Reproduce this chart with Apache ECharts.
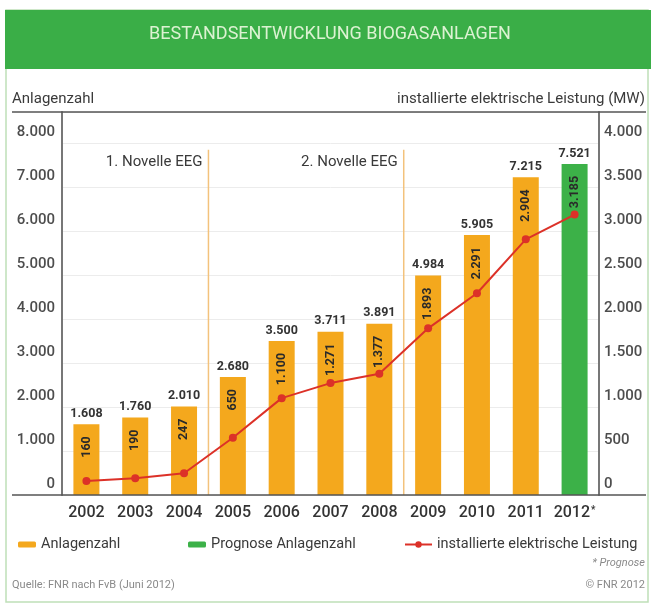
<!DOCTYPE html>
<html>
<head>
<meta charset="utf-8">
<script src="https://cdn.jsdelivr.net/npm/echarts@6/dist/echarts.min.js"></script>
<style>
html,body{margin:0;padding:0;background:#fff;}
#chart{width:651px;height:605px;}
</style>
</head>
<body>
<div id="chart"></div>
<script>
// ---- data ----
const years = ['2002','2003','2004','2005','2006','2007','2008','2009','2010','2011','2012'];
const anlagenzahl = [1608, 1760, 2010, 2680, 3500, 3711, 3891, 4984, 5905, 7215, null];
const prognoseAnlagenzahl = [null, null, null, null, null, null, null, null, null, null, 7521];
const leistungMW = [160, 190, 247, 650, 1100, 1271, 1377, 1893, 2291, 2904, 3185];
const novellen = [
  { between: ['2004', '2005'], label: '1. Novelle EEG' },
  { between: ['2008', '2009'], label: '2. Novelle EEG' }
];
const titleText = 'BESTANDSENTWICKLUNG BIOGASANLAGEN';
const leftAxisName = 'Anlagenzahl';
const rightAxisName = 'installierte elektrische Leistung (MW)';
const forecastYear = '2012';

// ---- helpers ----
const fmt = v => (v == null ? '' : String(Math.round(v)).replace(/\B(?=(\d{3})+(?!\d))/g, '.'));
const totals = anlagenzahl.map((v, i) => (v != null ? v : prognoseAnlagenzahl[i]));
const FONT = 'Roboto, "Liberation Sans", sans-serif';
const ORANGE = '#f4a81d';
const GREEN = '#3cb148';
const RED = '#dc3128';
const TXT = '#3a3a3a';

const chart = echarts.init(document.getElementById('chart'), null, { renderer: 'canvas' });

const legendText = { fontSize: 14.5, color: TXT, fontFamily: FONT };
const option = {
  backgroundColor: '#fff',
  animation: false,
  textStyle: { fontFamily: FONT },
  grid: { left: 62, right: 52, top: 112, bottom: 110, containLabel: false },
  legend: [
    { data: ['Anlagenzahl'], left: 13, top: 532, icon: 'roundRect', itemWidth: 18, itemHeight: 6, textStyle: legendText },
    { data: ['Prognose Anlagenzahl'], left: 183, top: 532, icon: 'roundRect', itemWidth: 18, itemHeight: 6, textStyle: legendText },
    { data: ['installierte elektrische Leistung'], left: 399, top: 532, itemWidth: 27, itemHeight: 8, textStyle: legendText }
  ],
  xAxis: {
    type: 'category',
    data: years,
    axisLine: { show: false },
    axisTick: { show: false },
    axisLabel: {
      interval: 0, fontSize: 16, fontWeight: 500, color: '#333', margin: 10, fontFamily: FONT,
      formatter: v => (v === forecastYear ? v + '{s|*}' : v),
      rich: { s: { fontSize: 10, color: '#333', verticalAlign: 'top', padding: [0, 0, 6, 1] } }
    }
  },
  yAxis: [
    {
      type: 'value', min: 0, max: 8700, interval: 1000,
      axisLine: { show: true, lineStyle: { color: '#777', width: 2 } },
      axisTick: { show: false },
      splitLine: { show: true, lineStyle: { color: '#ececec', width: 1 } },
      axisLabel: {
        showMaxLabel: false, fontSize: 15, fontWeight: 500, color: '#4d4d4d', margin: 7, fontFamily: FONT,
        verticalAlign: 'bottom', padding: [0, 0, 3, 0], formatter: v => fmt(v)
      }
    },
    {
      type: 'value', min: 0, max: 4350, interval: 500, position: 'right',
      axisLine: { show: true, lineStyle: { color: '#777', width: 2 } },
      axisTick: { show: false },
      splitLine: { show: false },
      axisLabel: {
        showMaxLabel: false, fontSize: 15, fontWeight: 500, color: '#4d4d4d', margin: 5, fontFamily: FONT,
        verticalAlign: 'bottom', padding: [0, 0, 3, 0], formatter: v => fmt(v)
      }
    }
  ],
  series: [
    {
      name: 'Anlagenzahl', type: 'bar', data: anlagenzahl, barWidth: 26, barGap: '-100%',
      itemStyle: { color: ORANGE },
      label: { show: true, position: 'top', distance: 4, fontSize: 12.5, fontWeight: 'bold', color: '#333', fontFamily: FONT,
        formatter: p => fmt(p.value) }
    },
    {
      name: 'Prognose Anlagenzahl', type: 'bar', data: prognoseAnlagenzahl, barWidth: 26, barGap: '-100%',
      itemStyle: { color: GREEN },
      label: { show: true, position: 'top', distance: 4, fontSize: 12.5, fontWeight: 'bold', color: '#333', fontFamily: FONT,
        formatter: p => fmt(p.value) }
    },
    {
      name: 'leistungLabels', type: 'bar', data: totals, barWidth: 26, barGap: '-100%', silent: true,
      itemStyle: { color: 'rgba(0,0,0,0)' },
      label: { show: true, position: 'insideTop', distance: 12, rotate: 90, align: 'right', verticalAlign: 'middle',
        fontSize: 12.5, fontWeight: 'bold', color: '#2a2a2a', fontFamily: FONT,
        formatter: p => fmt(leistungMW[p.dataIndex]) },
      z: 3
    },
    {
      name: 'installierte elektrische Leistung', type: 'line', yAxisIndex: 1, data: leistungMW,
      symbol: 'circle', symbolSize: 8,
      lineStyle: { color: RED, width: 2 }, itemStyle: { color: RED },
      z: 4
    }
  ]
};
chart.setOption(option);

// decorative graphics (frame, header, rules, annotations)
const txt = (text, x, y, font, fill, align) => ({
  type: 'text', z: 10,
  style: { text, x, y, fill, font, textAlign: align, textVerticalAlign: 'middle', align, verticalAlign: 'middle' }
});
const g = [
  { type: 'rect', z: -100, shape: { x: 6, y: 10, width: 642, height: 592 }, style: { fill: '#fff', stroke: '#bfe0b8', lineWidth: 1.5 } },
  { type: 'rect', z: -99, shape: { x: 5, y: 10, width: 646, height: 59 }, style: { fill: '#3aae47' } },
  txt(titleText, 330, 34, '18px ' + FONT, '#dcf2d2', 'center'),
  txt(leftAxisName, 12, 99, '15px ' + FONT, TXT, 'left'),
  txt(rightAxisName, 645, 99, '15px ' + FONT, TXT, 'right'),
  { type: 'line', z: 10, shape: { x1: 12, y1: 112, x2: 646, y2: 112 }, style: { stroke: '#555', lineWidth: 1.5 } },
  { type: 'line', z: 10, shape: { x1: 12, y1: 495, x2: 646, y2: 495 }, style: { stroke: '#555', lineWidth: 1.5 } },
  txt('* Prognose', 645, 563, 'italic 11px ' + FONT, '#8a8a8a', 'right'),
  txt('© FNR 2012', 645, 585, '11px ' + FONT, '#8a8a8a', 'right'),
  txt('Quelle: FNR nach FvB (Juni 2012)', 12, 585, '11px ' + FONT, '#8a8a8a', 'left')
];
const yTop = chart.convertToPixel({ yAxisIndex: 0 }, 7840);
const yBase = chart.convertToPixel({ yAxisIndex: 0 }, 0);
novellen.forEach(n => {
  const x = (chart.convertToPixel({ xAxisIndex: 0 }, n.between[0]) + chart.convertToPixel({ xAxisIndex: 0 }, n.between[1])) / 2;
  g.push({ type: 'line', z: 1, shape: { x1: x, y1: yTop, x2: x, y2: yBase }, style: { stroke: '#f3c27c', lineWidth: 1.5 } });
  g.push(txt(n.label, x - 6, yTop + 12, '15px ' + FONT, TXT, 'right'));
});
chart.setOption({ graphic: g });
</script>
</body>
</html>
